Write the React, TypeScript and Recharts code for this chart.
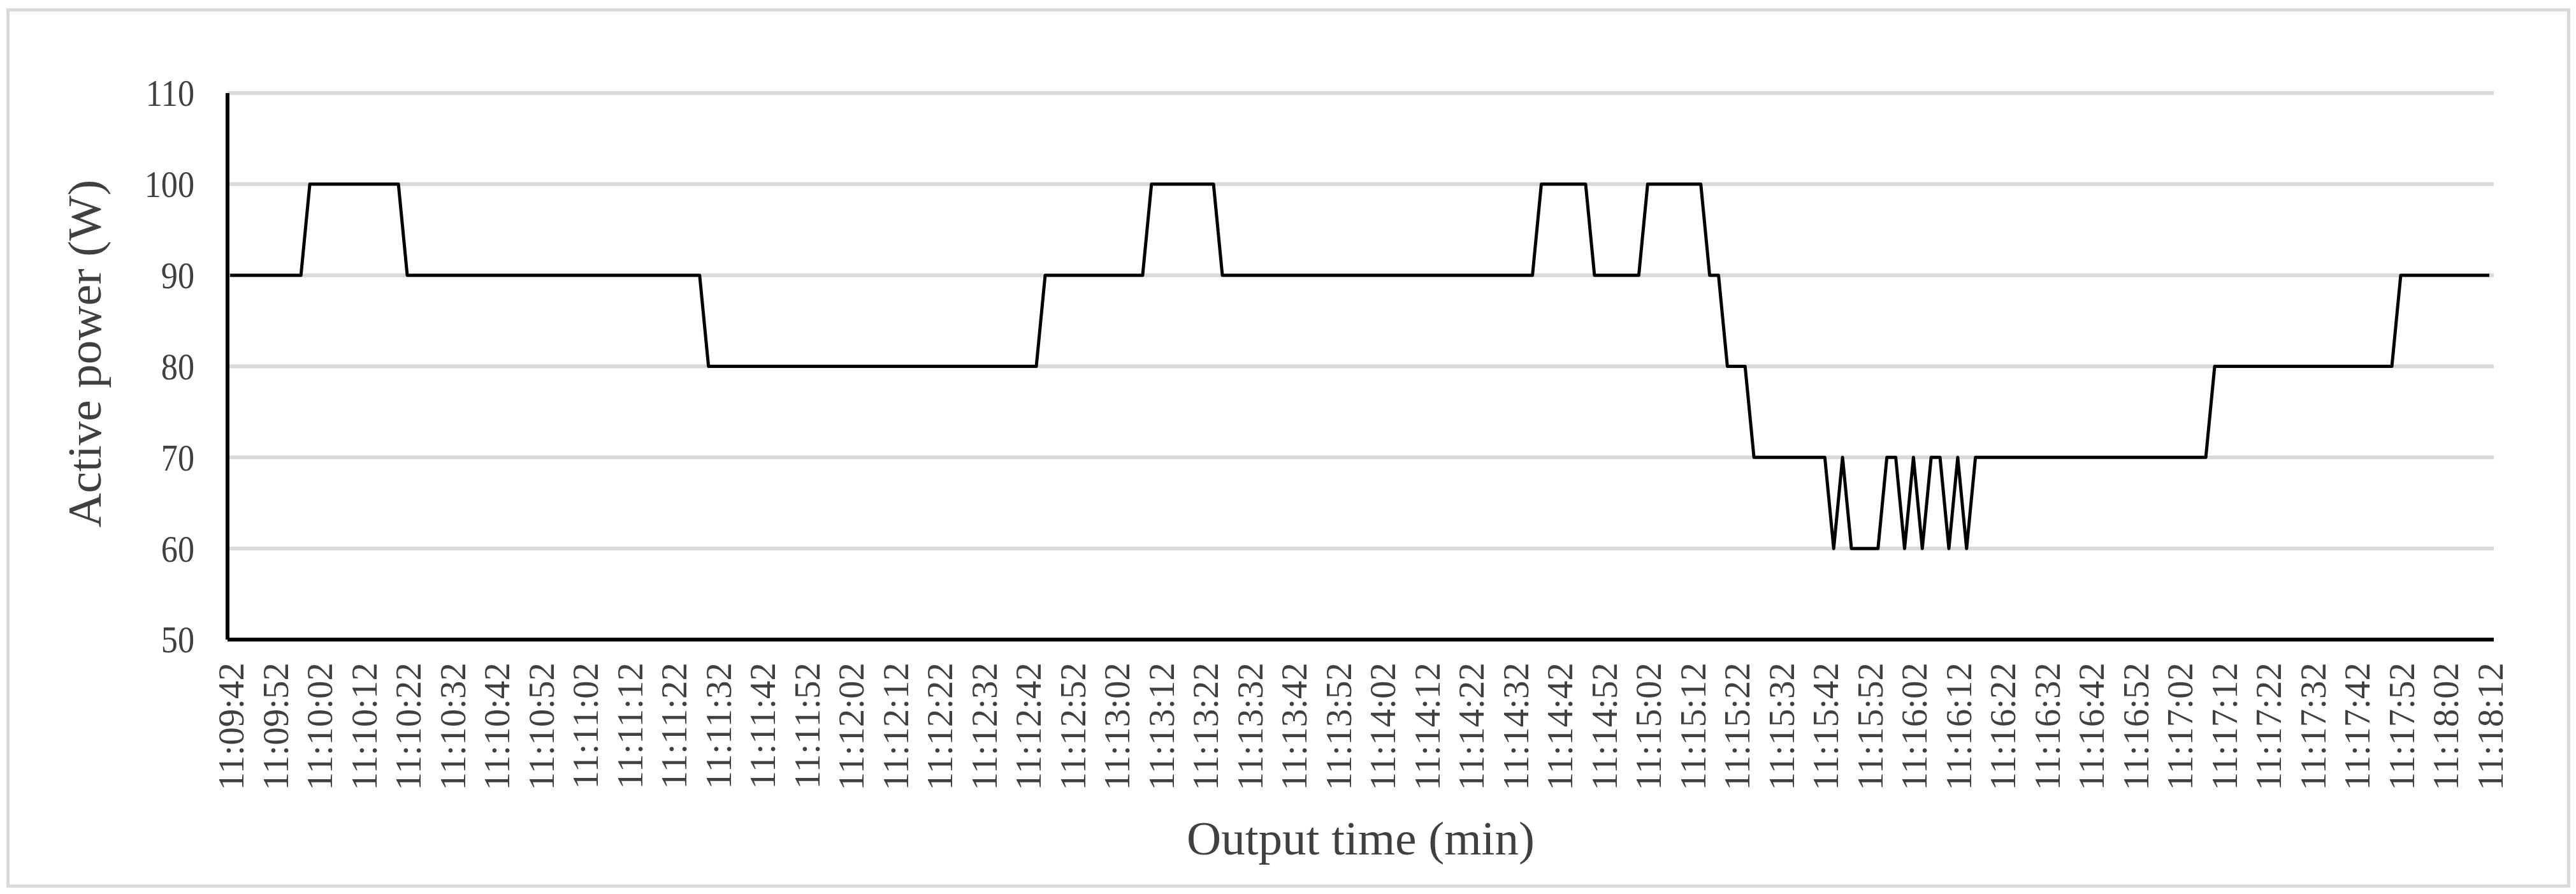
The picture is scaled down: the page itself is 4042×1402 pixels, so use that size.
import React from 'react'
import { LineChart, Line, XAxis, YAxis, CartesianGrid, Label } from 'recharts'

// sample times, every 2 s
const times = [
  '11:09:42', '11:09:44', '11:09:46', '11:09:48', '11:09:50', '11:09:52', '11:09:54', '11:09:56', '11:09:58',
  '11:10:00', '11:10:02', '11:10:04', '11:10:06', '11:10:08', '11:10:10', '11:10:12', '11:10:14', '11:10:16', '11:10:18',
  '11:10:20', '11:10:22', '11:10:24', '11:10:26', '11:10:28', '11:10:30', '11:10:32', '11:10:34', '11:10:36', '11:10:38',
  '11:10:40', '11:10:42', '11:10:44', '11:10:46', '11:10:48', '11:10:50', '11:10:52', '11:10:54', '11:10:56', '11:10:58',
  '11:11:00', '11:11:02', '11:11:04', '11:11:06', '11:11:08', '11:11:10', '11:11:12', '11:11:14', '11:11:16', '11:11:18',
  '11:11:20', '11:11:22', '11:11:24', '11:11:26', '11:11:28', '11:11:30', '11:11:32', '11:11:34', '11:11:36', '11:11:38',
  '11:11:40', '11:11:42', '11:11:44', '11:11:46', '11:11:48', '11:11:50', '11:11:52', '11:11:54', '11:11:56', '11:11:58',
  '11:12:00', '11:12:02', '11:12:04', '11:12:06', '11:12:08', '11:12:10', '11:12:12', '11:12:14', '11:12:16', '11:12:18',
  '11:12:20', '11:12:22', '11:12:24', '11:12:26', '11:12:28', '11:12:30', '11:12:32', '11:12:34', '11:12:36', '11:12:38',
  '11:12:40', '11:12:42', '11:12:44', '11:12:46', '11:12:48', '11:12:50', '11:12:52', '11:12:54', '11:12:56', '11:12:58',
  '11:13:00', '11:13:02', '11:13:04', '11:13:06', '11:13:08', '11:13:10', '11:13:12', '11:13:14', '11:13:16', '11:13:18',
  '11:13:20', '11:13:22', '11:13:24', '11:13:26', '11:13:28', '11:13:30', '11:13:32', '11:13:34', '11:13:36', '11:13:38',
  '11:13:40', '11:13:42', '11:13:44', '11:13:46', '11:13:48', '11:13:50', '11:13:52', '11:13:54', '11:13:56', '11:13:58',
  '11:14:00', '11:14:02', '11:14:04', '11:14:06', '11:14:08', '11:14:10', '11:14:12', '11:14:14', '11:14:16', '11:14:18',
  '11:14:20', '11:14:22', '11:14:24', '11:14:26', '11:14:28', '11:14:30', '11:14:32', '11:14:34', '11:14:36', '11:14:38',
  '11:14:40', '11:14:42', '11:14:44', '11:14:46', '11:14:48', '11:14:50', '11:14:52', '11:14:54', '11:14:56', '11:14:58',
  '11:15:00', '11:15:02', '11:15:04', '11:15:06', '11:15:08', '11:15:10', '11:15:12', '11:15:14', '11:15:16', '11:15:18',
  '11:15:20', '11:15:22', '11:15:24', '11:15:26', '11:15:28', '11:15:30', '11:15:32', '11:15:34', '11:15:36', '11:15:38',
  '11:15:40', '11:15:42', '11:15:44', '11:15:46', '11:15:48', '11:15:50', '11:15:52', '11:15:54', '11:15:56', '11:15:58',
  '11:16:00', '11:16:02', '11:16:04', '11:16:06', '11:16:08', '11:16:10', '11:16:12', '11:16:14', '11:16:16', '11:16:18',
  '11:16:20', '11:16:22', '11:16:24', '11:16:26', '11:16:28', '11:16:30', '11:16:32', '11:16:34', '11:16:36', '11:16:38',
  '11:16:40', '11:16:42', '11:16:44', '11:16:46', '11:16:48', '11:16:50', '11:16:52', '11:16:54', '11:16:56', '11:16:58',
  '11:17:00', '11:17:02', '11:17:04', '11:17:06', '11:17:08', '11:17:10', '11:17:12', '11:17:14', '11:17:16', '11:17:18',
  '11:17:20', '11:17:22', '11:17:24', '11:17:26', '11:17:28', '11:17:30', '11:17:32', '11:17:34', '11:17:36', '11:17:38',
  '11:17:40', '11:17:42', '11:17:44', '11:17:46', '11:17:48', '11:17:50', '11:17:52', '11:17:54', '11:17:56', '11:17:58',
  '11:18:00', '11:18:02', '11:18:04', '11:18:06', '11:18:08', '11:18:10', '11:18:12',
]

// active power (W), one value per time
const power = [
  90, 90, 90, 90, 90, 90, 90, 90, 90, 100, 100, 100, 100, 100, 100, 100,
  100, 100, 100, 100, 90, 90, 90, 90, 90, 90, 90, 90, 90, 90, 90, 90,
  90, 90, 90, 90, 90, 90, 90, 90, 90, 90, 90, 90, 90, 90, 90, 90,
  90, 90, 90, 90, 90, 90, 80, 80, 80, 80, 80, 80, 80, 80, 80, 80,
  80, 80, 80, 80, 80, 80, 80, 80, 80, 80, 80, 80, 80, 80, 80, 80,
  80, 80, 80, 80, 80, 80, 80, 80, 80, 80, 80, 80, 90, 90, 90, 90,
  90, 90, 90, 90, 90, 90, 90, 90, 100, 100, 100, 100, 100, 100, 100, 100,
  90, 90, 90, 90, 90, 90, 90, 90, 90, 90, 90, 90, 90, 90, 90, 90,
  90, 90, 90, 90, 90, 90, 90, 90, 90, 90, 90, 90, 90, 90, 90, 90,
  90, 90, 90, 90, 100, 100, 100, 100, 100, 100, 90, 90, 90, 90, 90, 90,
  100, 100, 100, 100, 100, 100, 100, 90, 90, 80, 80, 80, 70, 70, 70, 70,
  70, 70, 70, 70, 70, 60, 70, 60, 60, 60, 60, 70, 70, 60, 70, 60,
  70, 70, 60, 70, 60, 70, 70, 70, 70, 70, 70, 70, 70, 70, 70, 70,
  70, 70, 70, 70, 70, 70, 70, 70, 70, 70, 70, 70, 70, 70, 70, 70,
  80, 80, 80, 80, 80, 80, 80, 80, 80, 80, 80, 80, 80, 80, 80, 80,
  80, 80, 80, 80, 80, 90, 90, 90, 90, 90, 90, 90, 90, 90, 90, 90,
]

const yTicks = [50, 60, 70, 80, 90, 100, 110]

const data = times.map((t, i) => ({ time: t, power: power[i] }))

const FONT = "'Liberation Serif', 'Times New Roman', serif"
const TEXT = '#404040'

function YTick({ x, y, payload }: any) {
  return (
    <text transform={`translate(${x},${y}) scale(0.87,1)`} textAnchor="end" dy="0.34em"
          fontFamily={FONT} fontSize={60} fill={TEXT}>
      {payload.value}
    </text>
  )
}

function XTick({ x, y, payload }: any) {
  return (
    <text transform={`translate(${x + 21},${y}) rotate(-90)`} textAnchor="end"
          fontFamily={FONT} fontSize={57} fill={TEXT}>
      {payload.value}
    </text>
  )
}

export default function App() {
  return (
    <div style={{ position: 'absolute', left: 0, top: 0, width: 4042, height: 1402, background: '#fff' }}>
      <div style={{ position: 'absolute', left: 10, top: 13, width: 4023, height: 1379,
                    border: '5px solid #D9D9D9', boxSizing: 'border-box' }} />
      <div style={{ position: 'absolute', left: 0, top: 0 }}>
        <LineChart width={4042} height={1402} data={data}
                   margin={{ top: 146, right: 129, left: 0, bottom: 0 }}>
          <CartesianGrid vertical={false} stroke="#D9D9D9" strokeWidth={6} />
          <XAxis dataKey="time" scale="point" interval={4} height={399}
                 padding={{ left: 4, right: 7 }}
                 axisLine={{ stroke: '#000', strokeWidth: 6 }} tickLine={false}
                 tickSize={0} tickMargin={36} tick={<XTick />}>
            <Label content={({ viewBox }: any) => (
              <text x={viewBox.x + viewBox.width / 2} y={viewBox.y + 337} textAnchor="middle"
                    fontFamily={FONT} fontSize={75} fill={TEXT}>Output time (min)</text>
            )} />
          </XAxis>
          <YAxis type="number" domain={[50, 110]} ticks={yTicks} interval={0} width={357}
                 axisLine={{ stroke: '#000', strokeWidth: 6 }} tickLine={false}
                 tickSize={0} tickMargin={52} tick={<YTick />}>
            <Label content={({ viewBox }: any) => {
              const cx = 158
              const cy = viewBox.y + viewBox.height / 2 - 20
              return (
                <text transform={`translate(${cx},${cy}) rotate(-90)`} textAnchor="middle"
                      fontFamily={FONT} fontSize={75} fill={TEXT}>Active power (W)</text>
              )
            }} />
          </YAxis>
          <Line type="linear" dataKey="power" stroke="#000" strokeWidth={5}
                strokeLinejoin="round" dot={false} activeDot={false} isAnimationActive={false} />
        </LineChart>
      </div>
    </div>
  )
}
